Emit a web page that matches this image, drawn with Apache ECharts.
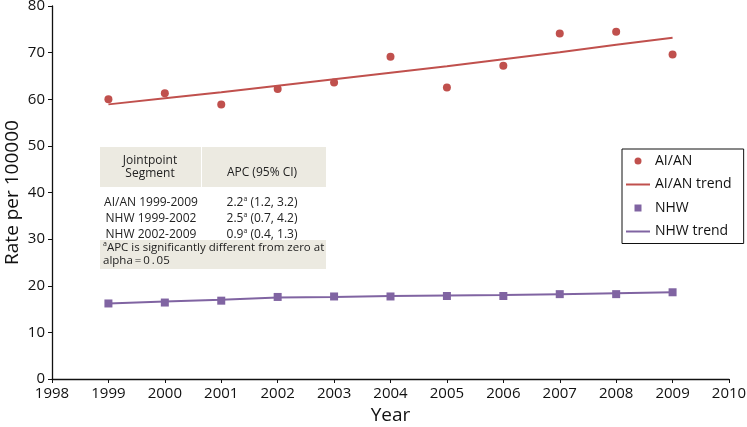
<!DOCTYPE html>
<html><head><meta charset="utf-8">
<script src="https://cdn.jsdelivr.net/npm/echarts@6/dist/echarts.min.js"></script>
<style>html,body{margin:0;padding:0;background:#fff}#c{width:747px;height:427px}</style>
</head><body><div id="c"></div>
<script>
const years = [1999,2000,2001,2002,2003,2004,2005,2006,2007,2008,2009];
const aianRates = [60.0,61.3,58.9,62.2,63.6,69.1,62.5,67.2,74.1,74.5,69.6];
const aianTrend = [58.9,60.2,61.5,62.9,64.3,65.7,67.1,68.6,70.1,71.7,73.2];
const nhwRates = [16.2,16.4,16.8,17.6,17.7,17.7,17.8,17.8,18.2,18.2,18.6];
const nhwTrend = [16.2,16.6,17.0,17.5,17.6,17.8,17.9,18.0,18.2,18.4,18.6];
const tableHeader = ['Jointpoint\nSegment', 'APC (95% CI)'];
const tableRows = [
  ['AI/AN 1999-2009', '2.2', '(1.2, 3.2)'],
  ['NHW 1999-2002', '2.5', '(0.7, 4.2)'],
  ['NHW 2002-2009', '0.9', '(0.4, 1.3)']
];
const footnote = ['APC is significantly different from zero at', 'alpha\u2009=\u20090\u2009.\u200905'];

const RED = '#C0504D', PURPLE = '#8064A2';
const FONT = '"Open Sans", "DejaVu Sans", sans-serif';
const pair = arr => years.map((y, i) => [y, arr[i]]);

const chart = echarts.init(document.getElementById('c'), null, {renderer: 'canvas'});

const graphics = [];
graphics.push({type:'rect', shape:{x:100,y:147,width:101,height:40}, style:{fill:'#ECEAE1'}, z:10});
graphics.push({type:'rect', shape:{x:202,y:147,width:124,height:40}, style:{fill:'#ECEAE1'}, z:10});
graphics.push({type:'rect', shape:{x:100,y:240,width:226,height:29}, style:{fill:'#ECEAE1'}, z:10});
graphics.push({type:'text', x:150, y:167, z:11, style:{text:tableHeader[0], font:'12px '+FONT, fill:'#222', align:'center', verticalAlign:'middle', lineHeight:13}});
graphics.push({type:'text', x:262, y:173, z:11, style:{text:tableHeader[1], font:'12px '+FONT, fill:'#222', align:'center', verticalAlign:'middle'}});
const rowY = [203, 219, 235];
tableRows.forEach((r, i) => {
  graphics.push({type:'text', x:151, y:rowY[i], z:11, style:{text:r[0], font:'12px '+FONT, fill:'#222', align:'center', verticalAlign:'middle'}});
  graphics.push({type:'text', x:262, y:rowY[i], z:11, style:{
    text:'{n|'+r[1]+'}{s|a}{n| '+r[2]+'}', align:'center', verticalAlign:'middle',
    rich:{n:{font:'12px '+FONT, fill:'#222'}, s:{font:'7px '+FONT, fill:'#222', padding:[0,0,8,0]}}}});
});
graphics.push({type:'text', x:103, y:248, z:11, style:{
  text:'{s|a}{n|'+footnote[0]+'}', align:'left', verticalAlign:'middle',
  rich:{n:{font:'11.5px '+FONT, fill:'#222'}, s:{font:'7px '+FONT, fill:'#222', padding:[0,0,8,0]}}}});
graphics.push({type:'text', x:103, y:261, z:11, style:{text:footnote[1], font:'11.5px '+FONT, fill:'#222', align:'left', verticalAlign:'middle'}});

const lineIcon = 'path://M0,0h24v2h-24z';
const squareIcon = 'path://M0,0h1v1h-1z';

chart.setOption({
  animation: false,
  backgroundColor: '#fff',
  textStyle: {fontFamily: FONT},
  grid: {left: 52, right: 18, top: 6, bottom: 48, containLabel: false, outerBoundsMode: 'none'},
  xAxis: {
    type: 'value', min: 1998, max: 2010, interval: 1,
    name: 'Year', nameLocation: 'middle', nameGap: 26,
    nameTextStyle: {fontSize: 19, color: '#111', fontFamily: FONT},
    axisLine: {show: true, lineStyle: {color: '#111', width: 1.3}},
    axisTick: {show: true, length: 4, lineStyle: {color: '#111'}},
    axisLabel: {fontSize: 15, color: '#111', margin: 7, formatter: v => String(v)},
    splitLine: {show: false}
  },
  yAxis: {
    type: 'value', min: 0, max: 80, interval: 10,
    name: 'Rate per 100000', nameLocation: 'middle', nameGap: 30, nameMoveOverlap: false,
    nameTextStyle: {fontSize: 19, color: '#111', fontFamily: FONT},
    axisLine: {show: true, lineStyle: {color: '#111', width: 1.3}},
    axisTick: {show: true, length: 4, lineStyle: {color: '#111'}},
    axisLabel: {fontSize: 15, color: '#111', margin: 7},
    splitLine: {show: false}
  },
  legend: {
    orient: 'vertical', left: 622, top: 149,
    backgroundColor: '#fff',
    borderColor: '#111', borderWidth: 1,
    padding: [5, 12, 5, 4],
    itemGap: 9.5, itemWidth: 24, itemHeight: 7,
    textStyle: {fontSize: 14, color: '#111', fontFamily: FONT},
    data: [
      {name: 'AI/AN', icon: 'circle'},
      {name: 'AI/AN trend', icon: lineIcon},
      {name: 'NHW', icon: squareIcon},
      {name: 'NHW trend', icon: lineIcon}
    ]
  },
  graphic: graphics,
  series: [
    {name: 'AI/AN trend', type: 'line', data: pair(aianTrend), showSymbol: false, symbol: 'none',
     lineStyle: {color: RED, width: 2}, itemStyle: {color: RED}, z: 2},
    {name: 'AI/AN', type: 'scatter', data: pair(aianRates), symbol: 'circle', symbolSize: 8,
     itemStyle: {color: RED, opacity: 1}, z: 3},
    {name: 'NHW trend', type: 'line', data: pair(nhwTrend), showSymbol: false, symbol: 'none',
     lineStyle: {color: PURPLE, width: 2}, itemStyle: {color: PURPLE}, z: 2},
    {name: 'NHW', type: 'scatter', data: pair(nhwRates), symbol: 'rect', symbolSize: 8,
     itemStyle: {color: PURPLE, opacity: 1}, z: 3}
  ]
});
</script></body></html>
